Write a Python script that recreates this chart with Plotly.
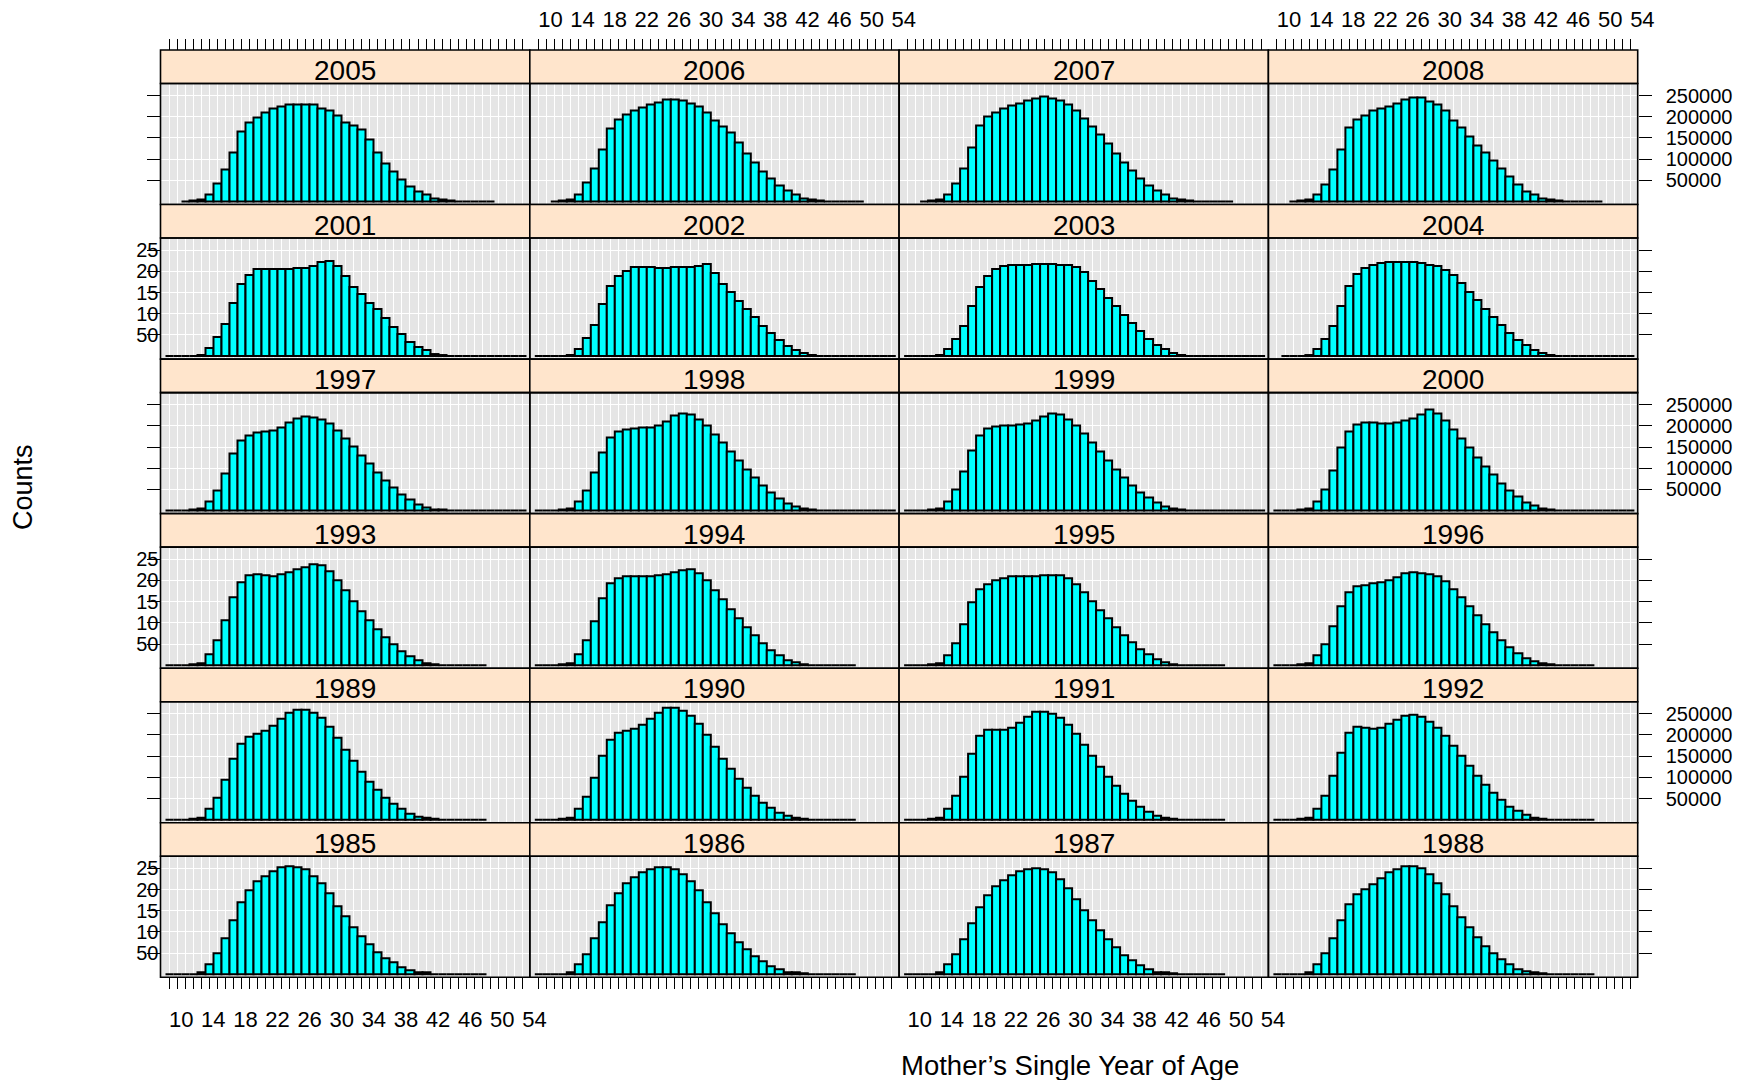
import plotly.graph_objects as go

N = None
# ---------------- data (counts in thousands, by mother's age 10..54) ----------------
AGES = list(range(10, 55))
X_LABELS = [10, 14, 18, 22, 26, 30, 34, 38, 42, 46, 50, 54]
Y_TICKS = [50000, 100000, 150000, 200000, 250000]
Y_TEXT_RIGHT = ["50000", "100000", "150000", "200000", "250000"]
Y_TEXT_LEFT = ["50", "10", "15", "20", "25"]   # clipped labels as seen in the original

births_1985 = [0.3,0.3,1,1,4,24,49,86,128,169, 198,220,231,244,252,256,252,248,231,216, 191,161,136,111,91,71,53,38,28,16, 9,4,4,1,1,1,1,0.5,0.5,0.5, N,N,N,N,N]
births_1986 = [0.3,0.3,1,1,4,23,47,84,124,163, 192,214,228,240,248,253,253,249,236,220, 198,170,144,119,97,76,58,42,30,19, 11,5,4,1.5,1,1,1,0.5,0.5,0.5, N,N,N,N,N]
births_1987 = [0.3,0.3,1,1,4,23,47,82,120,158, 186,208,222,234,243,248,251,249,240,225, 204,178,152,127,104,82,63,46,33,21, 12,6,4,1.5,1,1,1,0.5,0.5,0.5, N,N,N,N,N]
births_1988 = [0.3,0.3,1,1,4,24,49,86,128,166, 188,201,212,226,240,248,254,256,250,236, 214,188,160,134,110,87,67,49,35,23, 13,7,4,1.5,1,1,1,0.5,0.5,0.5, N,N,N,N,N]
births_1989 = [0.3,0.3,1,1.5,5,25,52,95,143,180, 196,203,210,222,238,253,260,260,253,240, 220,194,166,139,114,91,71,53,38,26, 15,8,4,2,1,1,1,0.5,0.5,0.5, N,N,N,N,N]
births_1990 = [0.3,0.3,1,1.5,5,26,55,100,150,190, 205,209,214,224,238,252,265,264,258,245, 226,200,172,145,120,97,76,57,41,28, 17,9,5,2,1,1,1,0.5,0.5,0.5, N,N,N,N,N]
births_1991 = [0.3,0.3,1,1.5,5,26,56,102,155,198, 212,213,212,218,230,243,254,256,250,240, 224,202,176,150,125,101,80,61,44,30, 19,10,5,2,1,1,1,0.5,0.5,0.5, N,N,N,N,N]
births_1992 = [0.3,0.3,1,1.5,5,26,57,104,158,205, 220,218,215,218,226,236,245,248,242,232, 218,198,175,150,127,104,83,64,47,32, 21,11,6,2,1,1,1,0.5,0.5,0.5, N,N,N,N,N]
births_1993 = [0.3,0.3,1,1.5,5,27,58,106,160,196, 212,216,212,210,214,220,226,232,238,236, 222,200,176,151,128,106,85,66,49,34, 22,12,6,2.5,1,1,1,0.5,0.5,0.5, N,N,N,N,N]
births_1994 = [0.3,0.3,1,1.5,5,27,58,105,158,193, 206,210,211,210,210,212,215,220,224,227, 218,200,178,155,132,110,89,70,52,36, 24,13,7,3,1,1,1,0.5,0.5,0.5, N,N,N,N,N]
births_1995 = [0.3,0.3,1,1.5,4,24,53,97,148,180, 192,200,206,210,211,211,211,212,212,212, 206,192,172,151,130,110,90,71,54,38, 25,14,7,3,1,1,1,0.5,0.5,0.5, N,N,N,N,N]
births_1996 = [0.3,0.3,1,1.5,4,23,50,92,140,172, 186,190,193,196,200,208,217,219,218,215, 210,198,180,160,140,119,98,78,60,43, 29,17,9,4,1.5,1,1,0.5,0.5,0.5, N,N,N,N,N]
births_1997 = [0.3,0.3,1,1.5,4,22,48,88,134,165, 178,184,187,190,197,207,218,222,220,214, 205,190,170,150,130,110,90,71,54,38, 26,15,8,3.5,1.5,1,1,0.5,0.5,0.5, 0.5,0.5,0.5,0.5,0.5]
births_1998 = [0.3,0.3,1,1.5,4,22,48,90,138,172, 187,192,194,195,196,200,210,224,230,226, 216,200,180,160,139,118,97,77,59,42, 29,17,9,4,1.5,1,1,0.5,0.5,0.5, 0.5,0.5,0.5,0.5,0.5]
births_1999 = [0.3,0.3,1,1.5,4,22,49,92,142,178, 194,199,200,200,202,205,212,222,230,226, 216,200,181,161,140,119,98,78,60,43, 30,18,10,4,1.5,1,1,0.5,0.5,0.5, 0.5,0.5,0.5,0.5,0.5]
births_2000 = [0.3,0.3,1,1.5,4,22,50,95,148,186, 203,207,207,206,206,208,212,218,226,238, 228,212,192,170,148,126,104,84,65,47, 33,20,11,5,2,1,1,0.5,0.5,0.5, 0.5,0.5,0.5,0.5,0.5]
births_2001 = [0.5,0.5,0.7,1,3,18,44,76,126,171, 192,205,205,205,205,205,208,208,212,221, 225,213,188,163,146,126,110,89,69,51, 34,22,14,6,3,1,0.8,0.6,0.5,0.5, 0.5,0.5,0.5,0.5,0.5]
births_2002 = [0.5,0.5,0.7,1,3,17,42,74,122,165, 188,201,209,210,209,208,208,209,210,211, 213,218,196,170,150,130,112,92,72,54, 37,24,15,7,3,1,0.8,0.6,0.5,0.5, 0.5,0.5,0.5,0.5,0.5]
births_2003 = [0.5,0.5,0.7,1,3,16,40,72,118,163, 190,205,213,216,216,216,217,218,217,216, 215,210,199,178,158,137,118,97,77,58, 40,26,16,8,3.5,1,0.8,0.6,0.5,0.5, 0.5,0.5,0.5,0.5,0.5]
births_2004 = [N,0.5,0.7,1,3,16,40,72,118,165, 193,208,216,220,222,222,222,221,220,216, 212,204,192,172,152,132,112,92,73,55, 38,25,15,7,3.5,1,0.8,0.6,0.5,0.5, 0.5,0.5,0.5,0.5,0.5]
births_2005 = [N,N,1,1.5,4,16,42,75,116,165, 186,199,211,219,224,228,228,228,228,220, 216,204,186,179,171,146,116,91,71,53, 36,24,16,8,4,1.5,1,0.8,0.6,0.5, 0.4,N,N,N,N]
births_2006 = [N,N,1,1.5,4,17,44,79,124,172, 193,205,215,222,228,234,240,240,238,232, 224,210,192,178,162,140,114,92,72,54, 37,25,16,8,4,1.5,1,0.8,0.6,0.5, 0.4,N,N,N,N]
births_2007 = [N,N,1,1.5,4,17,43,79,128,180, 200,209,219,226,232,238,244,248,244,238, 228,214,196,178,158,136,114,93,73,55, 38,25,16,8,4,1.5,1,0.8,0.6,0.5, 0.4,N,N,N,N]
births_2008 = [N,N,1,2,4,16,41,75,124,175, 194,203,216,220,224,232,241,245,245,236, 228,215,191,175,153,132,116,98,79,58, 41,24,16,8,4,1.5,1,0.8,0.6,0.5, 0.4,N,N,N,N]

COUNTS = {
    1985: births_1985, 1986: births_1986, 1987: births_1987, 1988: births_1988,
    1989: births_1989, 1990: births_1990, 1991: births_1991, 1992: births_1992,
    1993: births_1993, 1994: births_1994, 1995: births_1995, 1996: births_1996,
    1997: births_1997, 1998: births_1998, 1999: births_1999, 2000: births_2000,
    2001: births_2001, 2002: births_2002, 2003: births_2003, 2004: births_2004,
    2005: births_2005, 2006: births_2006, 2007: births_2007, 2008: births_2008,
}

# ---------------- layout geometry (pixels) ----------------
W, H = 1760, 1080
COL_LEFT = [160.5, 529.8, 899.1, 1268.4]
CW = 369.3
ROW_TOP0 = 50.0
ROW_H = 154.55
STRIP_H = 33.5
XR = [8.93, 54.92]
PXU = CW / (XR[1] - XR[0])
YR = [-7000, 278500]
LABEL_SHIFT = 1.5
EXT = 30

CYAN = "#00FFFF"
STRIP = "#FFE5CC"
PANEL_BG = "#E5E5E5"
FONT = "Liberation Sans"
TICK_FONT = dict(size=20, color="black", family=FONT)


def fx(px):
    return px / W


def fy(py):
    return 1 - py / H


fig = go.Figure()
shapes = []
annotations = []
layout = {}

for r in range(6):
    st = ROW_TOP0 + r * ROW_H
    pt = st + STRIP_H
    pb = st + ROW_H
    for c in range(4):
        i = r * 4 + c + 1
        year = 2005 - 4 * r + c
        L = COL_LEFT[c]
        vals = COUNTS[year]
        fig.add_trace(go.Bar(
            x=AGES, y=[None if v is None else v * 1000 for v in vals],
            width=1, xaxis=f"x{i}", yaxis=f"y{i}",
            marker=dict(color=CYAN, line=dict(color="black", width=2)),
            showlegend=False, hoverinfo="skip"))

        xa = dict(domain=[fx(L), fx(L + CW)], range=XR, tickmode="array",
                  tickvals=AGES, showticklabels=False, showgrid=True,
                  gridcolor="white", gridwidth=1.3, zeroline=False,
                  showline=False, ticks="", fixedrange=True)
        if r == 0:
            xa.update(side="top", anchor="free", position=fy(st), ticks="outside",
                      ticklen=11, tickwidth=1.4, tickcolor="black")
        elif r == 5:
            xa.update(anchor=f"y{i}", ticks="outside", ticklen=11,
                      tickwidth=1.4, tickcolor="black")
        else:
            xa.update(anchor=f"y{i}")
        layout["xaxis" if i == 1 else f"xaxis{i}"] = xa

        ya = dict(domain=[fy(pb), fy(pt)], range=YR, anchor=f"x{i}",
                  tickmode="array", tickvals=Y_TICKS, showgrid=True,
                  gridcolor="white", gridwidth=1.3, zeroline=False,
                  showline=False, ticks="", showticklabels=False,
                  fixedrange=True, tickfont=TICK_FONT)
        if c == 0:
            ya.update(side="left", ticks="outside", ticklen=13, tickwidth=1.4,
                      tickcolor="black")
            if r % 2 == 1:
                ya.update(showticklabels=True, ticktext=Y_TEXT_LEFT,
                          ticklabelstandoff=-16)
        if c == 3:
            ya.update(side="right", ticks="outside", ticklen=13, tickwidth=1.4,
                      tickcolor="black")
            if r % 2 == 0:
                ya.update(showticklabels=True, ticktext=Y_TEXT_RIGHT,
                          ticklabelstandoff=10)
        layout["yaxis" if i == 1 else f"yaxis{i}"] = ya

        # panel background, border, strip
        shapes.append(dict(type="rect", xref="paper", yref="paper",
                           x0=fx(L), x1=fx(L + CW), y0=fy(pb), y1=fy(pt),
                           fillcolor=PANEL_BG, line=dict(width=0), layer="below"))
        shapes.append(dict(type="rect", xref="paper", yref="paper",
                           x0=fx(L), x1=fx(L + CW), y0=fy(pt), y1=fy(st),
                           fillcolor=STRIP, line=dict(color="black", width=1.6),
                           layer="above"))
        shapes.append(dict(type="rect", xref="paper", yref="paper",
                           x0=fx(L), x1=fx(L + CW), y0=fy(pb), y1=fy(pt),
                           fillcolor="rgba(0,0,0,0)",
                           line=dict(color="black", width=1.6), layer="above"))
        annotations.append(dict(text=str(year), xref="paper", yref="paper",
                                x=fx(L + CW / 2), y=fy(st + 20.5),
                                xanchor="center", yanchor="middle", showarrow=False,
                                font=dict(size=28, color="black", family=FONT)))

# label axes (labels offset from the tick marks, as in the original)
label_axes = [(1, "top", 31), (3, "top", 31), (0, "bottom", 1004), (2, "bottom", 1004)]
for j, (c, side, ypos) in enumerate(label_axes):
    k = 25 + j
    L = COL_LEFT[c]
    layout[f"xaxis{k}"] = dict(
        domain=[fx(L), fx(L + CW + EXT)],
        range=[XR[0], XR[0] + (CW + EXT) / PXU],
        anchor="free", position=fy(ypos), side=side,
        tickmode="array", tickvals=[v + LABEL_SHIFT for v in X_LABELS],
        ticktext=[str(v) for v in X_LABELS], ticks="", showgrid=False,
        zeroline=False, showline=False, fixedrange=True,
        tickfont=dict(size=22, color="black", family=FONT))
    fig.add_trace(go.Scatter(x=[None], y=[None], xaxis=f"x{k}", yaxis="y25",
                             showlegend=False, hoverinfo="skip"))
layout["yaxis25"] = dict(domain=[0, 0.01], visible=False, anchor="free",
                         position=0, range=[0, 1], showgrid=False, zeroline=False)

annotations.append(dict(text="Counts", xref="paper", yref="paper",
                        x=fx(23), y=fy(487), textangle=-90, showarrow=False,
                        xanchor="center", yanchor="middle",
                        font=dict(size=27, color="black", family=FONT)))
annotations.append(dict(text="Mother\u2019s Single Year of Age", xref="paper",
                        yref="paper", x=fx(1070), y=fy(1065), showarrow=False,
                        xanchor="center", yanchor="middle",
                        font=dict(size=27.5, color="black", family=FONT)))

fig.update_layout(
    width=W, height=H, margin=dict(l=0, r=0, t=0, b=0, pad=0),
    paper_bgcolor="white", plot_bgcolor="rgba(0,0,0,0)",
    showlegend=False, bargap=0, font=dict(family=FONT, color="black"),
    shapes=shapes, annotations=annotations, **layout)

fig.write_html("out.html")
